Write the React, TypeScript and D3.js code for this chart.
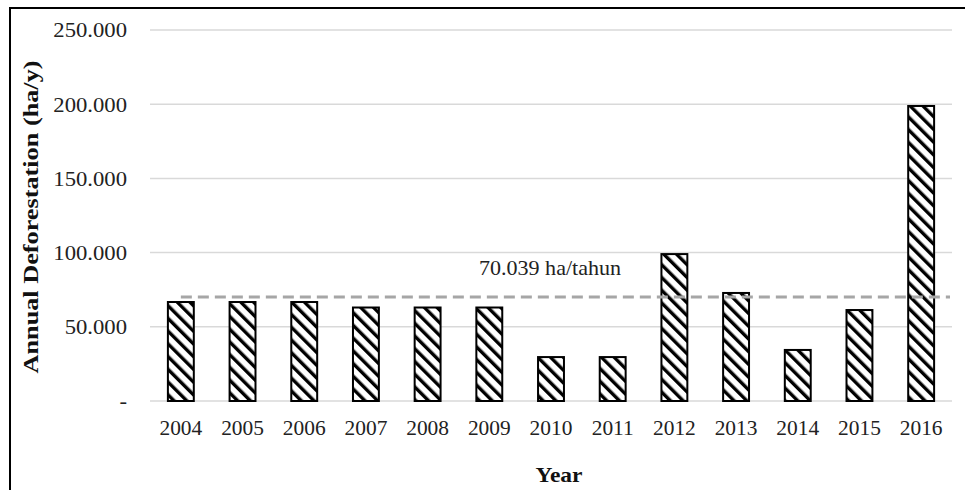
import React from "react";
import * as d3 from "d3";

const years = ["2004","2005","2006","2007","2008","2009","2010","2011","2012","2013","2014","2015","2016"];
const deforestation = [66700, 66700, 66700, 63000, 63000, 63000, 29600, 29600, 99000, 72800, 34400, 61300, 198800];
const average = 70039;
const averageLabel = "70.039 ha/tahun";
const yTicks = [0, 50000, 100000, 150000, 200000, 250000];
const yTickLabels = ["-", "50.000", "100.000", "150.000", "200.000", "250.000"];
const yTitle = "Annual Deforestation (ha/y)";
const xTitle = "Year";

const W = 965, H = 490;
const left = 150, right = 952, top = 30, bottom = 401;
const font = "'Liberation Serif', 'DejaVu Serif', serif";

export default function App() {
  const x = d3.scaleBand().domain(years).range([left, right]).paddingInner(0.58).paddingOuter(0.29);
  const y = d3.scaleLinear().domain([0, 250000]).range([bottom, top]);
  const xc = (d: string) => (x(d) as number) + x.bandwidth() / 2;
  const bw = x.bandwidth();
  const yAvg = y(average);
  return (
    <svg width={W} height={H} style={{ position: "absolute", left: 0, top: 0 }}>
      <defs>
        <pattern id="hatch" patternUnits="userSpaceOnUse" width={9} height={9} patternTransform="rotate(-45)">
          <rect width={9} height={9} fill="#fff" />
          <rect x={0} y={0} width={3.4} height={9} fill="#000" />
        </pattern>
      </defs>
      <rect x={0} y={0} width={W} height={H} fill="#fff" />
      <path d={`M10,${H} V8 H${W}`} fill="none" stroke="#000" strokeWidth={2} />
      {yTicks.map((t, i) => (
        <g key={t}>
          <line x1={left} x2={right} y1={y(t)} y2={y(t)} stroke="#d9d9d9" strokeWidth={1.5} />
          <text transform={`translate(127,${y(t)}) scale(1.08,1)`} dy="0.35em" textAnchor="end" fontFamily={font} fontSize={21} fill="#222">
            {yTickLabels[i]}
          </text>
        </g>
      ))}
      {years.map((yr, i) => (
        <rect key={yr} x={xc(yr) - bw / 2} y={y(deforestation[i])} width={bw} height={bottom - y(deforestation[i])}
          fill="url(#hatch)" stroke="#000" strokeWidth={2} />
      ))}
      <line x1={xc(years[0])} x2={950} y1={yAvg} y2={yAvg} stroke="#a6a6a6" strokeWidth={3} strokeDasharray="11 6" />
      <text transform={`translate(550,${yAvg - 22}) scale(1.05,1)`} textAnchor="middle" fontFamily={font} fontSize={21} fill="#222">{averageLabel}</text>
      {years.map((yr) => (
        <text key={yr} transform={`translate(${xc(yr)},435) scale(1.02,1)`} textAnchor="middle" fontFamily={font} fontSize={21} fill="#222">{yr}</text>
      ))}
      <text transform={`translate(559,482) scale(1.12,1)`} textAnchor="middle" fontFamily={font} fontSize={21} fontWeight="bold" fill="#111">{xTitle}</text>
      <text transform={`translate(38,217) rotate(-90)`} textAnchor="middle" fontFamily={font} fontSize={21}
        fontWeight="bold" fill="#111" textLength={313} lengthAdjust="spacingAndGlyphs">{yTitle}</text>
    </svg>
  );
}
